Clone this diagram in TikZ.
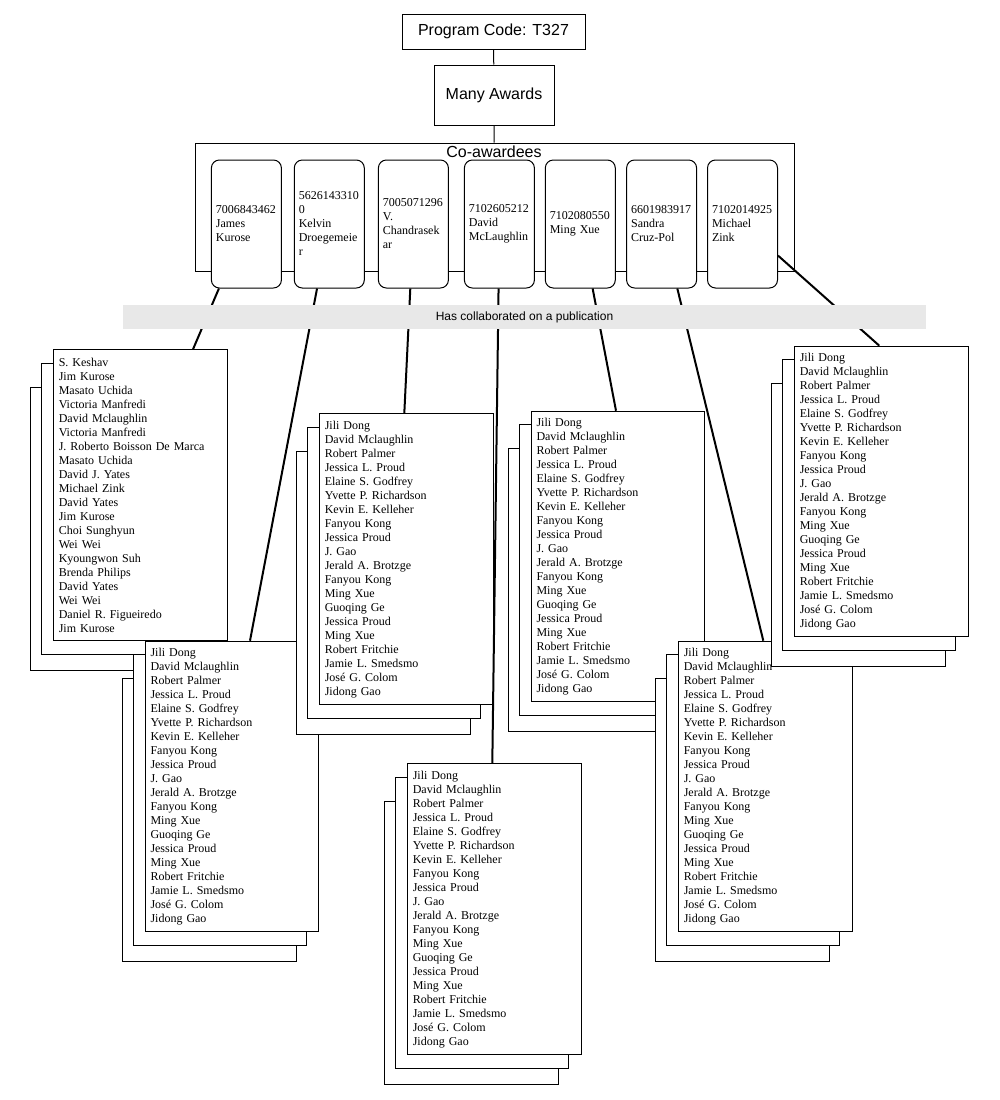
\documentclass[tikz,border=0pt]{standalone}
\usepackage{fontspec}
\setmainfont{Liberation Serif}
\newfontfamily\sansfont{Liberation Sans}
\usetikzlibrary{calc}

% the list shared by most co-awardees
\newcommand{\dongnames}{Jili Dong\\David Mclaughlin\\Robert Palmer\\Jessica L. Proud\\Elaine S. Godfrey\\Yvette P. Richardson\\Kevin E. Kelleher\\Fanyou Kong\\Jessica Proud\\J. Gao\\Jerald A. Brotzge\\Fanyou Kong\\Ming Xue\\Guoqing Ge\\Jessica Proud\\Ming Xue\\Robert Fritchie\\Jamie L. Smedsmo\\José G. Colom\\Jidong Gao}

% two sheets behind a list
\newcommand{\backsheets}[1]{%
  \draw[sheet] ($(#1)+(-23,38)$) rectangle ++(174.4,282.7);
  \draw[sheet] ($(#1)+(-12,14)$) rectangle ++(173.4,290.7);
}

\tikzset{
  topbox/.style={draw, line width=1pt, inner sep=0pt, font=\sansfont\fontsize{16}{19}\selectfont},
  member/.style={draw, fill=white, rounded corners=8pt, line width=1pt, minimum width=70pt, minimum height=128pt, text width=61pt, inner xsep=4.5pt, align=left, font=\fontsize{12}{14}\selectfont},
  pubbox/.style={draw, fill=white, line width=1pt, anchor=north west, text width=163.4pt, inner xsep=5pt, minimum height=290.7pt, align=left, font=\fontsize{12}{14}\selectfont},
  sheet/.style={draw, fill=white, line width=1pt},
  link/.style={line width=2pt},
}

\begin{document}
\begin{tikzpicture}[x=1pt,y=-1pt]
\useasboundingbox (0,0) rectangle (1000,1100);

\node[topbox, minimum width=183pt, minimum height=35pt] (prog) at (493.5,31.5) {Program Code: T327};
\node[topbox, minimum width=120pt, minimum height=60pt] (awards) at (494,95) {Many Awards};
\node[draw, line width=1pt, minimum width=599pt, minimum height=128pt, inner sep=0pt] (coaw) at (494.5,207) {};
\node[anchor=base, inner sep=0pt, font=\sansfont\fontsize{16}{19}\selectfont] (coawlabel) at (494,157) {Co-awardees};

\draw[line width=1pt] (prog) -- (awards);
\draw[line width=1pt] (awards) -- (coaw);

% co-awardees
\node[member] (kurose) at (246.4,224) {7006843462\\James\\Kurose};
\node[member] (droeg) at (329.3,224) {5626143310\\0\\Kelvin\\Droegemeie\\r};
\node[member] (chandra) at (413.4,224) {7005071296\\V.\\Chandrasek\\ar};
\node[member] (mclaughlin) at (499.4,224) {7102605212\\David\\McLaughlin};
\node[member] (xue) at (580.3,224) {7102080550\\Ming Xue};
\node[member] (cruzpol) at (661.6,224) {6601983917\\Sandra\\Cruz-Pol};
\node[member] (zink) at (742.5,224) {7102014925\\Michael\\Zink};

% publication lists
\backsheets{53.3,349.3}
\node[pubbox] (pubkurose) at (53.3,349.3) {S. Keshav\\Jim Kurose\\Masato Uchida\\Victoria Manfredi\\David Mclaughlin\\Victoria Manfredi\\J. Roberto Boisson De Marca\\Masato Uchida\\David J. Yates\\Michael Zink\\David Yates\\Jim Kurose\\Choi Sunghyun\\Wei Wei\\Kyoungwon Suh\\Brenda Philips\\David Yates\\Wei Wei\\Daniel R. Figueiredo\\Jim Kurose};

\backsheets{145,640.7}
\node[pubbox] (pubdroeg) at (145,640.7) {\dongnames};

\backsheets{319.3,413.3}
\node[pubbox] (pubchandra) at (319.3,413.3) {\dongnames};

\backsheets{531,410.7}
\node[pubbox] (pubxue) at (531,410.7) {\dongnames};

\backsheets{407.3,763.3}
\node[pubbox] (pubmclaughlin) at (407.3,763.3) {\dongnames};

\backsheets{678.3,640.7}
\node[pubbox] (pubcruzpol) at (678.3,640.7) {\dongnames};

\backsheets{794.3,345.7}
\node[pubbox] (pubzink) at (794.3,345.7) {\dongnames};

% connectors
\draw[link] (kurose) -- ($(pubkurose.north west)+(139.7,0)$);
\draw[link] (droeg) -- ($(pubdroeg.north west)+(105,0)$);
\draw[link] (chandra) -- ($(pubchandra.north west)+(85,0)$);
\draw[link] (mclaughlin) -- ($(pubmclaughlin.north west)+(85,0)$);
\draw[link] (xue) -- ($(pubxue.north west)+(85,0)$);
\draw[link] (cruzpol) -- ($(pubcruzpol.north west)+(85,0)$);
\draw[link] (zink) -- ($(pubzink.north west)+(85,0)$);

\node[fill=black!9, minimum width=803pt, minimum height=24pt, inner sep=0pt, font=\sansfont\fontsize{12}{14}\selectfont] (collab) at (524.5,317) {Has collaborated on a publication};

\end{tikzpicture}
\end{document}
